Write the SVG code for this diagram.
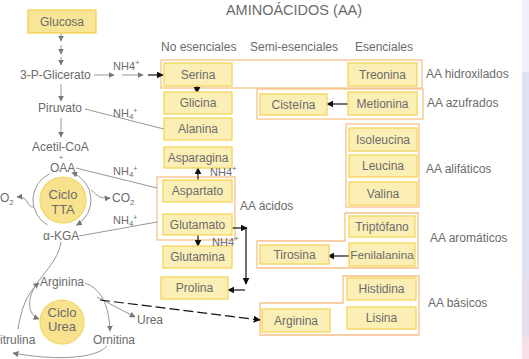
<svg xmlns="http://www.w3.org/2000/svg" width="529" height="359" viewBox="0 0 529 359">
<defs>
<style>
text{font-family:"Liberation Sans",Arial,sans-serif;fill:#6b6b6b;font-size:12px}
.c{text-anchor:middle}
.box{fill:#fcefb6;stroke:#f4d45a;stroke-width:1.3}
.grp{fill:none;stroke:#f8c088;stroke-width:1.3}
.g{fill:none;stroke:#8a8a8a;stroke-width:0.9}
.k{fill:none;stroke:#111;stroke-width:1.2}
.nh{font-size:11px}
.circ{fill:#f9e28e;stroke:#f3d462;stroke-width:1.2}
</style>
<marker id="ag" viewBox="0 0 10 10" refX="9" refY="5" markerWidth="6" markerHeight="6" orient="auto-start-reverse" markerUnits="userSpaceOnUse"><path d="M0,0L10,5L0,10z" fill="#777"/></marker>
<marker id="ak" viewBox="0 0 10 10" refX="9" refY="5" markerWidth="7" markerHeight="7" orient="auto-start-reverse" markerUnits="userSpaceOnUse"><path d="M0,0L10,5L0,10z" fill="#111"/></marker>
</defs>
<rect x="0" y="0" width="529" height="359" fill="#fff"/>
<rect x="522" y="0" width="7" height="72" fill="#eef0fa"/>
<rect x="522" y="72" width="7" height="205" fill="#dee2f3"/>
<rect x="522" y="277" width="7" height="60" fill="#e6dcef"/>
<rect x="522" y="337" width="7" height="22" fill="#f4e0e6"/>

<text x="294" y="15" class="c" style="font-size:14.5px">AMINOÁCIDOS (AA)</text>
<text x="161" y="51">No esenciales</text>
<text x="250" y="51">Semi-esenciales</text>
<text x="355" y="51">Esenciales</text>

<g id="groups">
<rect class="grp" x="161" y="60" width="261" height="28"/>
<rect class="grp" x="257" y="89" width="166" height="30"/>
<rect class="grp" x="346" y="124" width="73" height="83"/>
<rect class="grp" x="157" y="177" width="78" height="63"/>
<path class="grp" d="M345,213H418V268H257V241H345Z"/>
<path class="grp" d="M343,276H419V335H260V303H343Z"/>
</g>

<g id="connectors">
<path class="g" d="M61,34V41" marker-end="url(#ag)"/>
<path class="g" d="M61,45V54" marker-end="url(#ag)"/>
<path class="g" d="M61,57V65" marker-end="url(#ag)"/>
<path class="g" d="M61,84V101" marker-end="url(#ag)"/>
<path class="g" d="M61,118V137" marker-end="url(#ag)"/>
<path class="g" d="M94,75H114" marker-end="url(#ag)"/>
<path class="g" d="M122,75H143" marker-end="url(#ag)"/>
<path class="k" d="M148,75H163" marker-end="url(#ak)"/>
<path class="g" d="M85,109L164,129"/>
<path class="g" d="M76,168L157,188"/>
<path class="g" d="M79,236L157,222"/>
<path class="g" d="M76.5,225.1A29,29 0 0 0 71.9,172.7" marker-start="url(#ag)" marker-end="url(#ag)"/>
<path class="g" d="M49.7,173.7A29,29 0 0 0 47.5,225.1"/>
<path class="g" d="M34,207C26,208 30,196 17,197" marker-end="url(#ag)"/>
<path class="g" d="M91,190C96,193 97,199 110,198" marker-end="url(#ag)"/>
<path class="g" d="M61,242C58,262 42,273 33,290C27,303 29,315 39,319" marker-end="url(#ag)"/>
<path class="g" d="M18,329C21,310 27,292 39,283" marker-end="url(#ag)"/>
<path class="g" d="M85,283C99,288 109,302 110,331" marker-end="url(#ag)"/>
<path class="g" d="M97,297L135,317" marker-end="url(#ag)"/>
<path class="g" d="M107,346C95,360 50,360 13,353" marker-end="url(#ag)"/>
<path class="k" d="M100,300L260,320" stroke-dasharray="10,4" marker-end="url(#ak)"/>
<path class="k" d="M197,84V93" marker-end="url(#ak)"/>
<path class="k" d="M348,104H327" marker-end="url(#ak)"/>
<path class="k" d="M198,180V168" marker-end="url(#ak)"/>
<path class="k" d="M198,235V246" marker-end="url(#ak)"/>
<path class="k" d="M232,228H247" marker-end="url(#ak)"/>
<path class="k" d="M246,228V284" marker-end="url(#ak)"/>
<path class="k" d="M245,290H228" marker-end="url(#ak)"/>
<path class="k" d="M350,256H328" marker-end="url(#ak)"/>
</g>

<g id="glucosa"><rect x="28" y="10" width="68" height="23" fill="#f9e597" stroke="#f3d250" stroke-width="1.3"/><text x="62" y="26" class="c">Glucosa</text></g>
<g id="serina"><rect class="box" x="164" y="63" width="68" height="23"/><text x="198" y="79" class="c">Serina</text></g>
<g id="glicina"><rect class="box" x="164" y="92" width="68" height="22"/><text x="198" y="107" class="c">Glicina</text></g>
<g id="alanina"><rect class="box" x="164" y="118" width="68" height="22"/><text x="198" y="133" class="c">Alanina</text></g>
<g id="asparagina"><rect class="box" x="164" y="147" width="68" height="21"/><text x="198" y="162" class="c">Asparagina</text></g>
<g id="aspartato"><rect class="box" x="163" y="180" width="69" height="22"/><text x="197.5" y="195" class="c">Aspartato</text></g>
<g id="glutamato"><rect class="box" x="163" y="214" width="69" height="21"/><text x="197.5" y="229" class="c">Glutamato</text></g>
<g id="glutamina"><rect class="box" x="163" y="246" width="69" height="22"/><text x="197.5" y="261" class="c">Glutamina</text></g>
<g id="prolina"><rect class="box" x="161" y="277" width="67" height="22"/><text x="194.5" y="292" class="c">Prolina</text></g>
<g id="treonina"><rect class="box" x="348" y="63" width="69" height="23"/><text x="382.5" y="79" class="c">Treonina</text></g>
<g id="cisteina"><rect class="box" x="260" y="94" width="67" height="21"/><text x="293.5" y="109" class="c">Cisteína</text></g>
<g id="metionina"><rect class="box" x="348" y="92" width="69" height="23"/><text x="382.5" y="108" class="c">Metionina</text></g>
<g id="isoleucina"><rect class="box" x="349" y="128" width="68" height="23"/><text x="383" y="144" class="c">Isoleucina</text></g>
<g id="leucina"><rect class="box" x="349" y="155" width="68" height="22"/><text x="383" y="170" class="c">Leucina</text></g>
<g id="valina"><rect class="box" x="349" y="182" width="68" height="23"/><text x="383" y="198" class="c">Valina</text></g>
<g id="triptofano"><rect class="box" x="349" y="216" width="66" height="21"/><text x="382" y="231" class="c">Triptófano</text></g>
<g id="fenilalanina"><rect class="box" x="349" y="243" width="66" height="23"/><text x="382" y="259" class="c" style="font-size:11.8px">Fenilalanina</text></g>
<g id="tirosina"><rect class="box" x="260" y="245" width="69" height="19"/><text x="294.5" y="259" class="c">Tirosina</text></g>
<g id="histidina"><rect class="box" x="347" y="278" width="69" height="22"/><text x="381.5" y="293" class="c">Histidina</text></g>
<g id="lisina"><rect class="box" x="347" y="307" width="69" height="22"/><text x="381.5" y="322" class="c">Lisina</text></g>
<g id="arginina-box"><rect class="box" x="262" y="309" width="68" height="23"/><text x="296" y="325" class="c">Arginina</text></g>

<g id="ciclo-tta"><circle class="circ" cx="63" cy="200" r="23"/><text x="63" y="199" class="c" style="font-size:13px">Ciclo</text><text x="63" y="214" class="c" style="font-size:13px">TTA</text></g>
<g id="ciclo-urea"><circle class="circ" cx="62" cy="322" r="22"/><text x="62" y="317" class="c" style="font-size:13px">Ciclo</text><text x="62" y="331" class="c" style="font-size:13px">Urea</text></g>

<g id="labels">
<text x="20" y="79">3-P-Glicerato</text>
<text x="38" y="112">Piruvato</text>
<text x="32" y="151">Acetil-CoA</text>
<text x="61" y="160" class="c" style="font-size:7px">+</text>
<text x="50" y="172">OAA</text>
<text x="0" y="202">O<tspan font-size="8" dy="3">2</tspan></text>
<text x="112" y="202">CO<tspan font-size="8" dy="3">2</tspan></text>
<text x="43" y="240">α-KGA</text>
<text x="40" y="286">Arginina</text>
<text x="137" y="324">Urea</text>
<text x="93" y="344">Ornitina</text>
<text x="0" y="344">itrulina</text>
<text x="113" y="70" class="nh">NH4<tspan font-size="8" dy="-5">+</tspan></text>
<text x="113" y="117" class="nh">NH<tspan font-size="8" dy="2">4</tspan><tspan font-size="7" dy="-6">+</tspan></text>
<text x="113" y="175" class="nh">NH<tspan font-size="8" dy="2">4</tspan><tspan font-size="7" dy="-6">+</tspan></text>
<text x="113" y="224" class="nh">NH<tspan font-size="8" dy="2">4</tspan><tspan font-size="7" dy="-6">+</tspan></text>
<text x="210" y="176" class="nh">NH4<tspan font-size="8" dy="-5">+</tspan></text>
<text x="212" y="246" class="nh">NH4<tspan font-size="8" dy="-5">+</tspan></text>
<text x="240" y="210">AA ácidos</text>
<text x="426" y="78">AA hidroxilados</text>
<text x="427" y="107">AA azufrados</text>
<text x="426" y="173">AA alifáticos</text>
<text x="430" y="242">AA aromáticos</text>
<text x="428" y="307">AA básicos</text>
</g>
</svg>
